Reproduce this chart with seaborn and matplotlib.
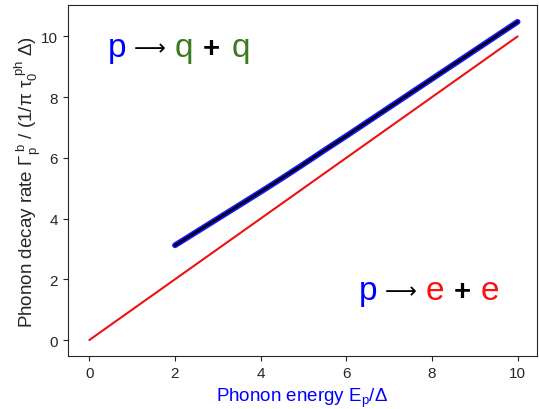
import matplotlib
matplotlib.use("Agg")
import matplotlib.pyplot as plt
import seaborn as sns
import pandas as pd

# Data
line_x = [0, 10]
line_y = [0, 10]
curve_x = [2.0, 2.5, 3.0, 3.5, 4.0, 4.5, 5.0, 5.5, 6.0, 6.5, 7.0, 7.5, 8.0, 8.5, 9.0, 9.5, 10.0]
curve_y = [3.12, 3.56, 4.00, 4.44, 4.88, 5.33, 5.79, 6.26, 6.72, 7.19, 7.66, 8.13, 8.60, 9.07, 9.54, 10.01, 10.48]
xticks = [0, 2, 4, 6, 8, 10]
yticks = [0, 2, 4, 6, 8, 10]

sns.set_style("ticks")
plt.rcParams['font.family'] = ['Liberation Sans', 'DejaVu Sans']
plt.rcParams['mathtext.fontset'] = 'custom'
plt.rcParams['mathtext.rm'] = 'Liberation Sans'
plt.rcParams['mathtext.it'] = 'Liberation Sans'
plt.rcParams['mathtext.bf'] = 'Liberation Sans:bold'

fig = plt.figure(figsize=(5.39, 4.10), dpi=100)
ax = fig.add_axes([0.126, 0.129, 0.870, 0.856])

df_line = pd.DataFrame({'x': line_x, 'y': line_y})
df_curve = pd.DataFrame({'x': curve_x, 'y': curve_y})

sns.lineplot(data=df_line, x='x', y='y', ax=ax, color='#ee1111', linewidth=1.5)
sns.lineplot(data=df_curve, x='x', y='y', ax=ax, color='#1a1aff', linewidth=4.2,
             solid_capstyle='round')
sns.lineplot(data=df_curve, x='x', y='y', ax=ax, color='#000022', linewidth=2.0,
             solid_capstyle='round')

ax.set_xticks(xticks)
ax.set_yticks(yticks)
ax.tick_params(labelsize=11, colors='.15')
ax.set_xlim(-0.5, 10.45)
ax.set_ylim(-0.53, 11.03)

ax.set_xlabel(r'Phonon energy E$_\mathrm{p}$/$\Delta$', color='#0000ff', fontsize=13.5)
ax.set_ylabel(r'Phonon decay rate $\Gamma_\mathrm{p}^{\ \mathrm{b}}$ / (1/$\pi$ $\tau_0^{\ \mathrm{ph}}$ $\Delta$)',
              fontsize=13.5, labelpad=-1)

fs = 24
blue = '#0000ff'
green = '#3b7a1e'
red = '#ff1010'
ARROW = '\u27f6'


def draw_pieces(pieces, base_y, arrow_y):
    for x, t, c in pieces:
        if t == ARROW:
            ax.text(x, arrow_y, t, color=c, fontsize=16, ha='left', va='center',
                    family=['DejaVu Sans'])
        elif t == '+':
            ax.text(x, arrow_y, t, color=c, fontsize=21, ha='left', va='center',
                    family=['Liberation Sans'], fontweight='bold')
        else:
            ax.text(x, base_y, t, color=c, fontsize=fs, ha='left', va='baseline',
                    family=['Liberation Sans'])


pieces1 = [(0.44, 'p', blue), (1.04, ARROW, 'black'), (2.00, 'q', green),
           (2.66, '+', 'black'), (3.33, 'q', green)]
draw_pieces(pieces1, 9.34, 9.62)
pieces2 = [(6.30, 'p', blue), (6.91, ARROW, 'black'), (7.86, 'e', red),
           (8.52, '+', 'black'), (9.14, 'e', red)]
draw_pieces(pieces2, 1.35, 1.62)

fig.savefig('out.png', dpi=100)
